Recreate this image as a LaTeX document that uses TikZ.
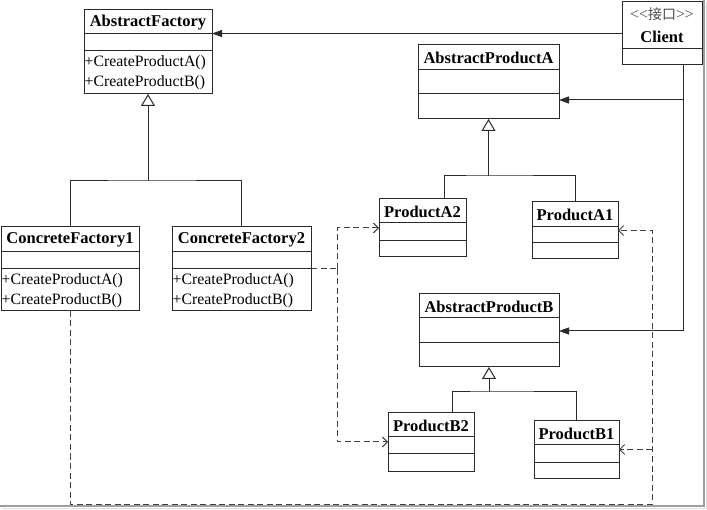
\documentclass[tikz,border=0pt]{standalone}
\usepackage{fontspec}
\setmainfont{Liberation Serif}
\newfontfamily\cjkfont{Noto Sans CJK SC}
\usetikzlibrary{arrows.meta,calc}
\definecolor{linec}{HTML}{2A2A2A}
\definecolor{depc}{HTML}{404040}
\tikzset{
 cls/.style={draw=linec, line width=1pt, fill=white, inner sep=0pt, outer sep=0pt},
 sepl/.style={draw=linec, line width=1pt},
 ttl/.style={font=\fontsize{16.5}{18}\selectfont\bfseries, inner sep=0pt},
 meth/.style={font=\fontsize{15.8}{17}\selectfont, inner sep=0pt, anchor=west},
 assoc/.style={draw=linec, line width=1pt, -{Triangle[length=10pt,width=7pt]}},
 gen/.style={draw=linec, line width=1pt, -{Triangle[open,length=12pt,width=14pt,fill=white]}},
 gline/.style={draw=linec, line width=1pt},
 dep/.style={draw=depc, line width=1pt, dash pattern=on 6pt off 3.5pt, -{Straight Barb[length=5pt,width=10pt]}},
 depl/.style={draw=depc, line width=1pt, dash pattern=on 6pt off 3.5pt},
}
% name, x1, y1, x2, y2, title bottom, attr bottom, title
\newcommand{\umlclass}[8]{%
  \pgfmathsetmacro{\bw}{#4-#2}%
  \pgfmathsetmacro{\bh}{#5-#3}%
  \node[cls, minimum width=\bw pt, minimum height=\bh pt, anchor=north west] (#1) at (#2,#3) {};
  \draw[sepl] (#2,#6) -- (#4,#6);
  \draw[sepl] (#2,#7) -- (#4,#7);
  \node[ttl] (#1-t) at ({(#2+#4)/2},{(#3+#6)/2+0.5}) {#8};
}
\begin{document}
\begin{tikzpicture}[x=1pt,y=-1pt]
\useasboundingbox (0,0) rectangle (707,510);
% frame shadow
\draw[gray!25, line width=1.6pt] (706.5,2) -- (706.5,508.5) -- (2,508.5);
\draw[gray!75, line width=1.2pt] (704,0) -- (704,506) -- (0,506);

% classes
\umlclass{af}{84}{10}{212}{94}{34}{51}{AbstractFactory}
\node[meth] (af-m1) at (84.5,63) {+CreateProductA()};
\node[meth] (af-m2) at (84.5,83) {+CreateProductB()};

\node[cls, minimum width=80pt, minimum height=63pt, anchor=north west] (client) at (622,2) {};
\draw[sepl] (622,49) -- (702,49);
\node[font=\fontsize{15.8}{17}\selectfont, text=black!70, inner sep=0pt] (client-s) at (662,14) {<{}<{}{\cjkfont\fontsize{14}{15}\selectfont 接口}>{}>};
\node[ttl] (client-t) at (662,37) {Client};

\umlclass{apA}{418}{45}{559}{119}{70}{94}{AbstractProductA}
\umlclass{cf1}{1}{227}{139}{311}{252}{269}{ConcreteFactory1}
\node[meth] (cf1-m1) at (1.5,280.5) {+CreateProductA()};
\node[meth] (cf1-m2) at (1.5,300.5) {+CreateProductB()};
\umlclass{cf2}{172}{227}{311}{311}{252}{269}{ConcreteFactory2}
\node[meth] (cf2-m1) at (172.5,280.5) {+CreateProductA()};
\node[meth] (cf2-m2) at (172.5,300.5) {+CreateProductB()};
\umlclass{pA2}{379}{199}{466}{257}{223}{241}{ProductA2}
\umlclass{pA1}{532}{202}{618}{259}{227}{243}{ProductA1}
\umlclass{apB}{419}{294}{559}{367}{318}{343}{AbstractProductB}
\umlclass{pB2}{388}{413}{474}{471}{437}{454}{ProductB2}
\umlclass{pB1}{534}{421}{619}{478}{445}{462}{ProductB1}

% generalizations
\coordinate (jF) at (148,181);
\draw[gline] (cf1.north) |- (jF) -| (cf2.north);
\draw[gen] (jF) -- (af.south);

\coordinate (a2t) at (444,199);
\coordinate (jA) at (488.5,176);
\draw[gline] (a2t) |- (jA) -| (pA1.north);
\draw[gen] (jA) -- (apA.south);

\coordinate (b2t) at (452,413);
\coordinate (jB) at (489,392);
\draw[gline] (b2t) |- (jB) -| (pB1.north);
\draw[gen] (jB) -- (apB.south);

% client associations
\draw[assoc] (client.west) -- (client.west -| af.east);
\coordinate (cv) at (683,65);
\coordinate (ca) at (683,100);
\coordinate (cb) at (683,331);
\draw[gline] (cv) -- (cb);
\draw[assoc] (ca) -- (ca -| apA.east);
\draw[assoc] (cb) -- (cb -| apB.east);

% dependencies
\coordinate (k) at (337,269);
\draw[depl] (cf2.east) -- (k);
\draw[dep] (k) |- (pA2.west);
\draw[dep] (k) |- (pB2.west);
\coordinate (m) at (652,504);
\draw[dep] (cf1.south) |- (m) |- (pA1.east);
\draw[dep] (m |- pB1.east) -- (pB1.east);
\end{tikzpicture}
\end{document}
